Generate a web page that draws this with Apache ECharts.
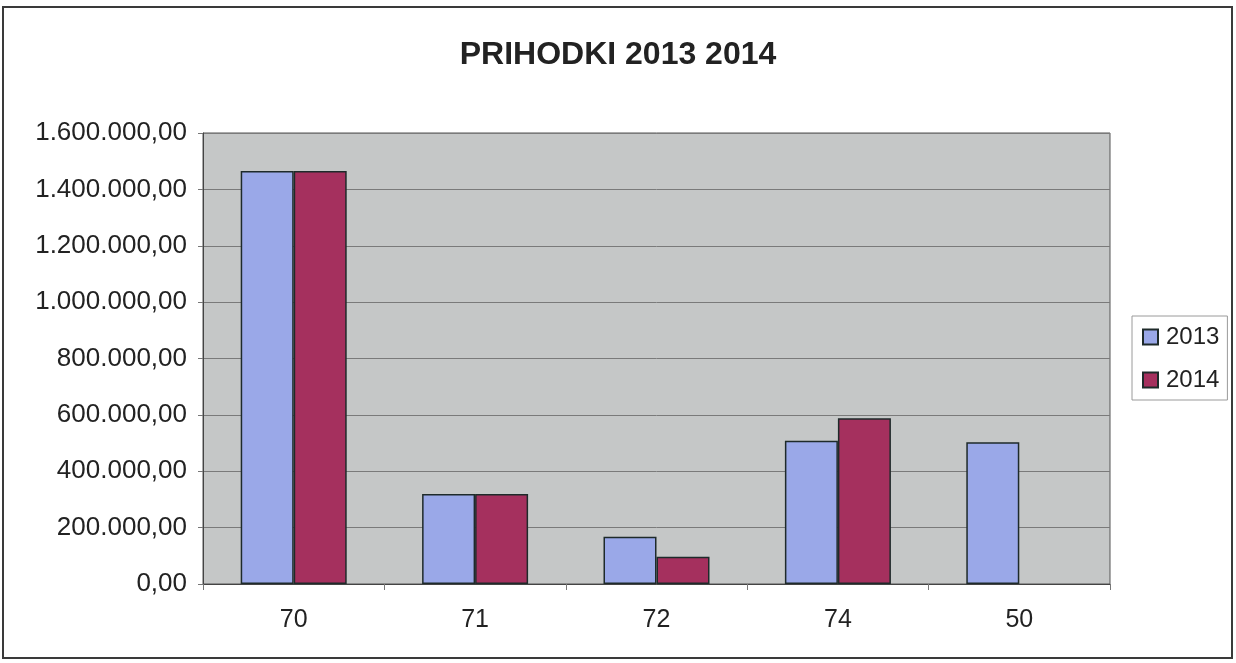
<!DOCTYPE html>
<html>
<head>
<meta charset="utf-8">
<script src="https://cdn.jsdelivr.net/npm/echarts@6/dist/echarts.min.js"></script>
<style>
html,body{margin:0;padding:0;background:#fff;}
#c{width:1236px;height:663px;}
</style>
</head>
<body>
<div id="c"></div>
<script>
const titleText = 'PRIHODKI 2013 2014';
const categories = ['70', '71', '72', '74', '50'];
const seriesNames = ['2013', '2014'];
const values2013 = [1465000, 319000, 168000, 508000, 503000];
const values2014 = [1465000, 319000, 97000, 588000, null];
const yMin = 0, yMax = 1600000, yStep = 200000;

function fmt(v) {
  const s = Math.round(v).toString().replace(/\B(?=(\d{3})+(?!\d))/g, '.');
  return s + ',00';
}

const chart = echarts.init(document.getElementById('c'), null, {renderer: 'canvas'});
chart.setOption({
  backgroundColor: '#ffffff',
  animation: false,
  title: {
    text: titleText,
    left: 'center',
    top: 34,
    textStyle: {fontFamily: 'Liberation Sans, Arial, sans-serif', fontSize: 32, fontWeight: 'bold', color: '#222'}
  },
  graphic: [{
    type: 'rect', silent: true,
    shape: {x: 3, y: 7, width: 1229, height: 651},
    style: {fill: 'none', stroke: '#3a3a3a', lineWidth: 2}
  }],
  legend: {
    orient: 'vertical',
    left: 1132, top: 316,
    padding: [9, 8, 8, 10],
    itemGap: 19,
    itemWidth: 15, itemHeight: 15,
    borderColor: '#9a9a9a', borderWidth: 1,
    icon: 'rect',
    data: seriesNames,
    textStyle: {fontFamily: 'Liberation Sans, Arial, sans-serif', fontSize: 24, color: '#222', lineHeight: 24, padding: [0, 0, 0, 3]}
  },
  grid: {
    left: 203, top: 133, width: 907, height: 451,
    show: true, backgroundColor: '#c5c7c7', borderColor: '#555', borderWidth: 1,
    containLabel: false
  },
  xAxis: {
    type: 'category',
    data: categories,
    axisLine: {lineStyle: {color: '#444', width: 1}},
    axisTick: {show: true, length: 6, lineStyle: {color: '#777'}},
    axisLabel: {fontFamily: 'Liberation Sans, Arial, sans-serif', fontSize: 25, color: '#222', margin: 24}
  },
  yAxis: {
    type: 'value',
    min: yMin, max: yMax, interval: yStep,
    axisLine: {show: true, lineStyle: {color: '#444'}},
    axisTick: {show: true, length: 5, lineStyle: {color: '#777'}},
    splitLine: {show: true, lineStyle: {color: '#7a7a7a', width: 1}},
    axisLabel: {fontFamily: 'Liberation Sans, Arial, sans-serif', fontSize: 26, color: '#222', margin: 16, formatter: fmt}
  },
  series: [
    {
      name: seriesNames[0], type: 'bar', data: values2013,
      barWidth: 53, barGap: '0%',
      itemStyle: {color: '#9aa8e8', borderColor: '#1e2a2a', borderWidth: 1.5}
    },
    {
      name: seriesNames[1], type: 'bar', data: values2014,
      barWidth: 53, barGap: '0%',
      itemStyle: {color: '#a5305e', borderColor: '#1e2a2a', borderWidth: 1.5}
    }
  ]
});
</script>
</body>
</html>
